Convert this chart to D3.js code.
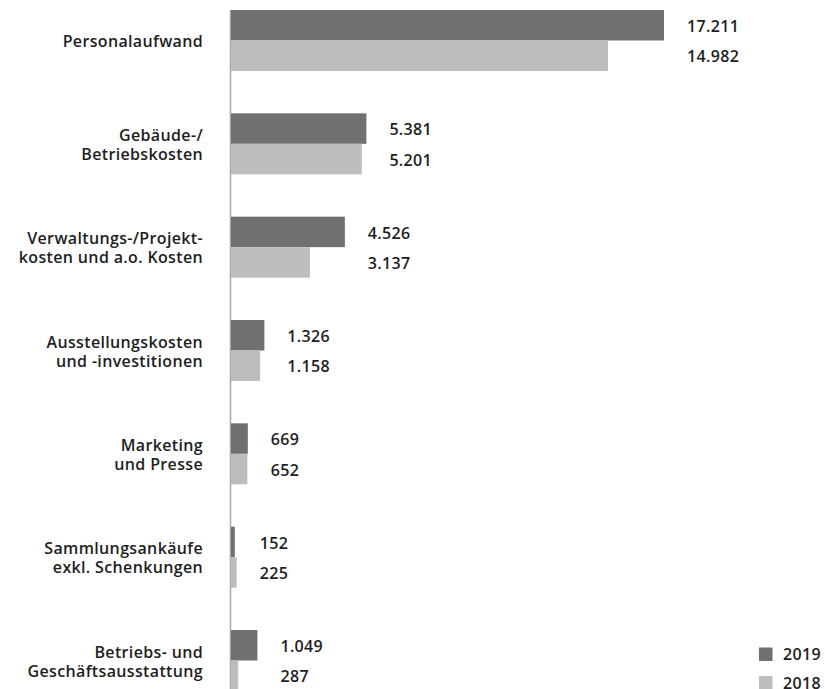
<!DOCTYPE html>
<html><head><meta charset="utf-8">
<script src="https://cdn.jsdelivr.net/npm/d3@7"></script>
<style>
html,body{margin:0;padding:0;background:#fff;}
text{font-family:"Open Sans", sans-serif;font-weight:600;fill:#1e1e1e;letter-spacing:0.35px;}
</style></head>
<body><svg id="c" width="825" height="689"></svg>
<script>
const categories = [
  ["Personalaufwand"],
  ["Gebäude-/", "Betriebskosten"],
  ["Verwaltungs-/Projekt-", "kosten und a.o. Kosten"],
  ["Ausstellungskosten", "und -investitionen"],
  ["Marketing", "und Presse"],
  ["Sammlungsankäufe", "exkl. Schenkungen"],
  ["Betriebs- und", "Geschäftsausstattung"]
];
const values2019 = [17211, 5381, 4526, 1326, 669, 152, 1049];
const values2018 = [14982, 5201, 3137, 1158, 652, 225, 287];
const seriesNames = ["2019", "2018"];
const colors = ["#707070", "#bcbdbc"];

const svg = d3.select("#c");
const fmt = d3.formatLocale({decimal: ",", thousands: ".", grouping: [3], currency: ["", "€"]}).format(",d");

const x = d3.scaleLinear().domain([0, 17211]).range([231, 664]);
const idx = d3.range(categories.length);
const y = d3.scaleBand().domain(idx).range([10, 691]).paddingInner(0.41).paddingOuter(0);
const ySub = d3.scaleBand().domain([0, 1]).range([0, y.bandwidth()]);

// axis line
svg.append("line").attr("x1", 230.5).attr("x2", 230.5).attr("y1", 10).attr("y2", 689)
  .attr("stroke", "#a8a8a8").attr("stroke-width", 1.5);

const g = svg.selectAll("g.grp").data(idx).join("g").attr("class", "grp")
  .attr("transform", i => `translate(0,${y(i)})`);

g.each(function(i) {
  const gg = d3.select(this);
  const vals = [values2019[i], values2018[i]];
  gg.selectAll("rect").data(vals).join("rect")
    .attr("x", x(0)).attr("y", (d, k) => ySub(k))
    .attr("width", d => x(d) - x(0)).attr("height", ySub.bandwidth())
    .attr("fill", (d, k) => colors[k]);
  const lx = x(d3.max(vals)) + 23;
  gg.selectAll("text.val").data(vals).join("text").attr("class", "val")
    .attr("x", lx).attr("y", (d, k) => ySub(k) + ySub.bandwidth() / 2 + 1)
    .attr("dy", "0.35em").attr("font-size", 16).text(d => fmt(d));
  const lines = categories[i];
  const cy = y.bandwidth() / 2;
  gg.selectAll("text.cat").data(lines).join("text").attr("class", "cat")
    .attr("x", 203).attr("text-anchor", "end")
    .attr("y", (d, k) => cy + (k - (lines.length - 1) / 2) * 19 + 1)
    .attr("dy", "0.35em").attr("font-size", 16).text(d => d);
});

// legend
const leg = svg.selectAll("g.leg").data(seriesNames).join("g").attr("class", "leg")
  .attr("transform", (d, k) => `translate(759,${647.5 + k * 28.5})`);
leg.append("rect").attr("width", 13.5).attr("height", 13.5).attr("fill", (d, k) => colors[k]);
leg.append("text").attr("x", 24).attr("y", 7).attr("dy", "0.35em").attr("font-size", 16).text(d => d);
</script></body></html>
